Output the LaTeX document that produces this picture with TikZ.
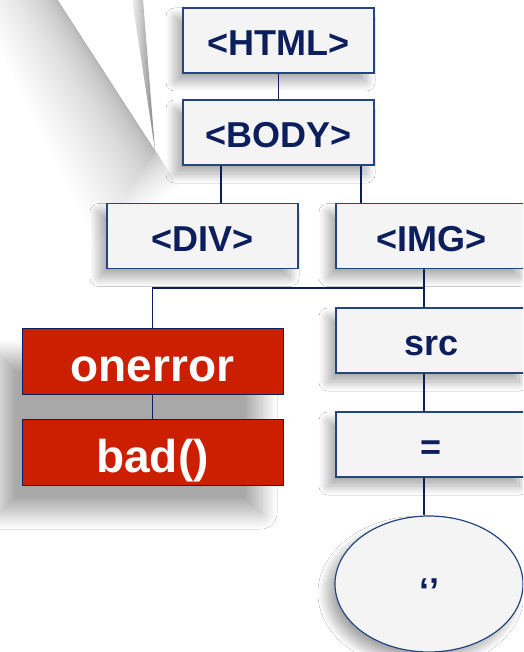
\documentclass[tikz,border=0pt]{standalone}
\usepackage{fontspec}
\setmainfont{Liberation Sans}
\usetikzlibrary{shadows.blur,shapes.geometric}

\definecolor{ink}{HTML}{0C1F5C}
\definecolor{edge}{HTML}{24457F}
\definecolor{boxfill}{HTML}{F4F4F4}
\definecolor{alert}{HTML}{CC1E00}

\tikzset{
  softshadow/.style={blur shadow={shadow xshift=-8pt, shadow yshift=-9pt,
      shadow blur radius=9pt, shadow blur steps=30, shadow opacity=34}},
  tag/.style={draw=edge, line width=1.2pt, fill=boxfill, softshadow,
      minimum width=191pt, minimum height=65pt, inner sep=0pt,
      text height=30pt, text depth=0pt,
      font=\fontsize{36}{40}\selectfont\bfseries, text=ink},
  hot/.style={draw=ink, line width=1pt, fill=alert,
      minimum width=261pt, minimum height=66pt, inner sep=0pt,
      text height=40pt, text depth=0pt,
      font=\fontsize{46}{50}\selectfont\bfseries, text=white},
  oval/.style={ellipse, draw=edge, line width=1.2pt, fill=boxfill, softshadow,
      minimum width=188pt, minimum height=136pt, inner sep=0pt,
      text height=38pt, text depth=0pt,
      font=\fontsize{36}{40}\selectfont\bfseries, text=ink},
  link/.style={draw=ink, line width=1.4pt},
}

\begin{document}
\begin{tikzpicture}[x=1pt,y=-1pt]
\useasboundingbox (0,0) rectangle (523,652);
\clip (0,0) rectangle (523,652);
\fill[white] (0,0) rectangle (523,652);

% tail of a callout coming in from above: soft shadow to its lower left,
% built from overlapping translucent bands, denser next to the edge
% (edge direction e = (0.543,0.839), outward normal n = (-0.839,0.543))
\foreach \i in {1,...,40} {
  \pgfmathsetmacro\d{\i*\i/16}
  \fill[black, opacity=0.009]
    (-9,-104) -- (155,150)
    -- ({155+0.543*0.45*\d},{150+0.839*0.45*\d})
    -- ({155+0.543*0.45*\d-0.839*\d},{150+0.839*0.45*\d+0.543*\d})
    -- ({-9-0.839*\d*0.6},{-104+0.543*\d*0.6}) -- cycle;
}
\fill[white] (45,-20) -- (155,150) -- (141.4,-20) -- cycle;
\shade[left color=white, right color=black!48]
  (129,-20) -- (141.4,-20) -- (155,150) -- cycle;

% shadow under the two highlighted boxes
\path[blur shadow={shadow xshift=-22pt, shadow yshift=-28pt,
    shadow blur radius=16pt, shadow blur steps=30, shadow opacity=34}]
  (22,328) rectangle (283,485);

% tree nodes
\node[tag] (html) at (278.5,40.5) {<HTML>};
\node[tag] (body) at (278.5,132.5) {<BODY>};
\node[tag] (div) at (202.5,236) {<DIV>};
\node[tag] (img) at (431.5,236) {<IMG>};
\node[tag] (src) at (431.5,340.5) {src};
\node[tag] (eq) at (431.5,444.5) {=};
\node[oval] (quote) at (429,584) {\char"2018\char"2019};
\node[hot] (onerror) at (152.5,361) {onerror};
\node[hot] (bad) at (152.5,452.5) {bad()};

% connector positions
\coordinate (bl) at (221,184);
\coordinate (br) at (361,184);
\coordinate (trunk) at (424,288);

% connectors
\draw[link] (html) -- (body);
\draw[link] (body.south -| bl) -- (div.north -| bl);
\draw[link] (body.south -| br) -- (img.north -| br);
\draw[link] (img.south -| trunk) -- (src.north -| trunk);
\draw[link] (trunk) -| (onerror.north);
\draw[link] (onerror) -- (bad);
\draw[link] (src.south -| trunk) -- (eq.north -| trunk);
\draw[link] (eq.south -| trunk) -- (quote.north -| trunk);
\end{tikzpicture}
\end{document}
